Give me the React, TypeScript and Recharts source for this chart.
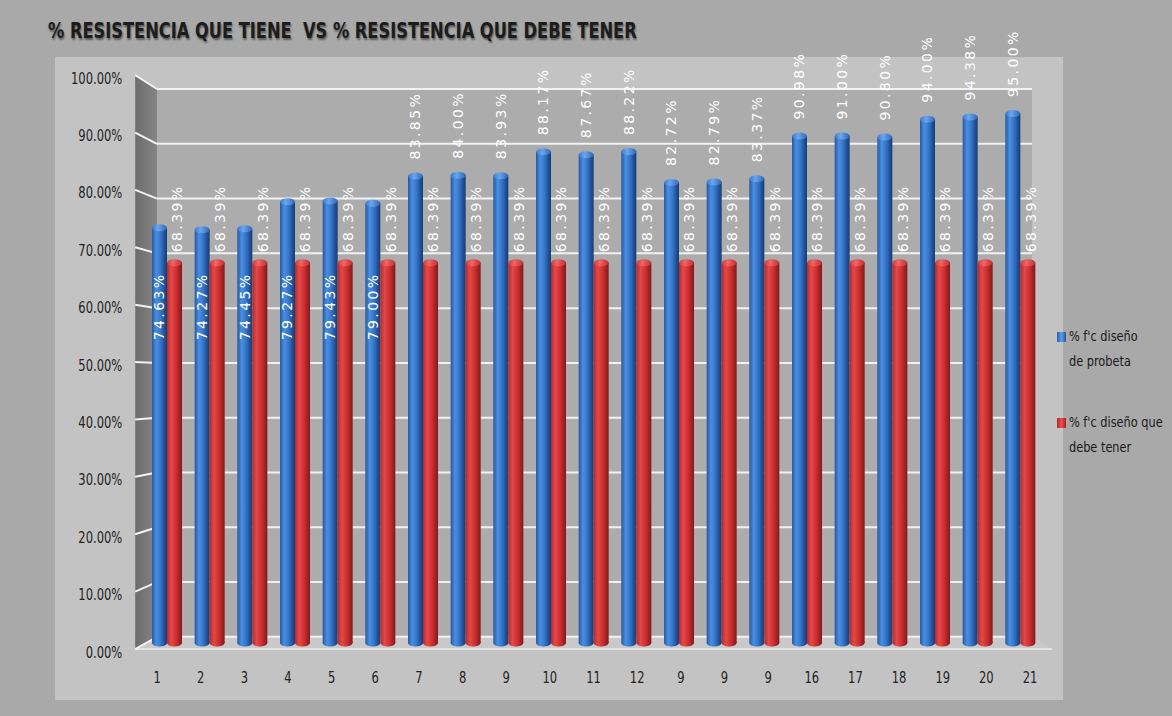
import React from 'react';
import { BarChart, Bar, XAxis, YAxis, CartesianGrid, LabelList } from 'recharts';

// ensayos (las etiquetas repetidas "9" vienen así de la hoja)
const categories = ['1', '2', '3', '4', '5', '6', '7', '8', '9', '10', '11', '12', '9', '9', '9', '16', '17', '18', '19', '20', '21'];
// % f'c diseño de probeta
const probeta = [74.63, 74.27, 74.45, 79.27, 79.43, 79.0, 83.85, 84.0, 83.93, 88.17, 87.67, 88.22, 82.72, 82.79, 83.37, 90.98, 91.0, 90.8, 94.0, 94.38, 95.0];
// % f'c diseño que debe tener
const debeTener = [68.39, 68.39, 68.39, 68.39, 68.39, 68.39, 68.39, 68.39, 68.39, 68.39, 68.39, 68.39, 68.39, 68.39, 68.39, 68.39, 68.39, 68.39, 68.39, 68.39, 68.39];
const yTicks = [0, 10, 20, 30, 40, 50, 60, 70, 80, 90, 100];

const SERIES_PROBETA = "% f'c diseño\nde probeta";
const SERIES_DEBE = "% f'c diseño que\ndebe tener";

const data = categories.map((c, i) => ({ idx: i, probeta: probeta[i], debe: debeTener[i] }));

const W = 1172;
const H = 716;
const MARGIN = { top: 82, right: 130, bottom: 43, left: 86 };
const Y_AXIS_W = 60;
const X_AXIS_H = 30;
const PLOT = {
  left: MARGIN.left + Y_AXIS_W,
  right: W - MARGIN.right,
  top: MARGIN.top,
  bottom: H - MARGIN.bottom - X_AXIS_H,
};

// perspectiva de la caja 3D: las barras quedan en el plano medio
const VP = { x: 615, y: 381 };
const BACK = 0.9766;
const FRONT = 1.023;
const proj = (x: number, y: number, k: number) => [VP.x + (x - VP.x) * k, VP.y + (y - VP.y) * k];

const NARROW = "'Liberation Sans Narrow', 'DejaVu Sans Condensed', 'Liberation Sans', sans-serif";
const pct = (v: number) => `${v.toFixed(2)}%`;

const labelStyle = {
  fontFamily: "'DejaVu Sans', sans-serif",
  fontSize: 14,
  letterSpacing: 2.4,
  fill: '#ffffff',
};

function Cylinder(props: any) {
  const { x, y, width, height, body, cap } = props;
  if (!height || height <= 0) return null;
  const rx = width / 2;
  const ry = 3.5;
  const cx = x + rx;
  const bottom = y + height;
  return (
    <g>
      <ellipse cx={cx} cy={bottom} rx={rx} ry={ry} fill={`url(#${body})`} />
      <rect x={x} y={y + ry} width={width} height={height - ry} fill={`url(#${body})`} />
      <ellipse cx={cx} cy={y + ry} rx={rx} ry={ry} fill={`url(#${cap})`} />
    </g>
  );
}

function ProbetaLabel(props: any) {
  const { x, y, width, height, value } = props;
  const cx = x + width / 2;
  if (value < 80) {
    // las más bajas llevan la etiqueta dentro del cilindro, hacia el 60%
    const cy = y + height - (height * 60) / value;
    return (
      <text x={cx} y={cy} transform={`rotate(-90 ${cx} ${cy})`} textAnchor="middle" dominantBaseline="central" style={labelStyle}>
        {pct(value)}
      </text>
    );
  }
  const ty = y - 13;
  return (
    <text x={cx} y={ty} transform={`rotate(-90 ${cx} ${ty})`} textAnchor="start" dominantBaseline="central" style={labelStyle}>
      {pct(value)}
    </text>
  );
}

function DebeLabel(props: any) {
  const { x, y, width, value } = props;
  const cx = x + width / 2 + 3;
  const ty = y - 7;
  return (
    <text x={cx} y={ty} transform={`rotate(-90 ${cx} ${ty})`} textAnchor="start" dominantBaseline="central" style={labelStyle}>
      {pct(value)}
    </text>
  );
}

// texto estrecho tipo Calibri: se comprime en horizontal
function NarrowText({ x, y, anchor, children }: any) {
  return (
    <g transform={`translate(${x} ${y}) scale(0.8 1)`}>
      <text x={0} y={0} textAnchor={anchor} dominantBaseline="central" fill="#222" fontSize={16} fontFamily={NARROW}>
        {children}
      </text>
    </g>
  );
}

function YTick(props: any) {
  const { y, payload } = props;
  const [fx, fy] = proj(PLOT.left, y, FRONT);
  return <NarrowText x={fx - 13} y={fy + 3} anchor="end">{pct(payload.value)}</NarrowText>;
}

function XTick(props: any) {
  const { x, payload } = props;
  const [fx] = proj(x, PLOT.bottom, FRONT);
  return <NarrowText x={fx} y={PLOT.bottom + 34} anchor="middle">{categories[payload.value]}</NarrowText>;
}

// líneas de división: pared del fondo + tramo sobre la pared lateral
function gridLine(p: any) {
  const [bx1, by] = proj(p.x1, p.y1, BACK);
  const [bx2] = proj(p.x2, p.y2, BACK);
  const [fx, fy] = proj(p.x1, p.y1, FRONT);
  return (
    <g key={`grid-${p.index}`}>
      <line x1={fx} y1={fy} x2={bx1} y2={by} stroke="#f2f2f2" strokeWidth={2} />
      <line x1={bx1} y1={by} x2={bx2} y2={by} stroke="#f2f2f2" strokeWidth={2} />
    </g>
  );
}

const legendItems = [
  { name: SERIES_PROBETA, marker: 'linear-gradient(90deg,#2a62b0,#5b9ae6,#2455a0)' },
  { name: SERIES_DEBE, marker: 'linear-gradient(90deg,#b82828,#e85050,#a82020)' },
];

function ChartLegend() {
  return (
    <div style={{ position: 'absolute', left: 1057, top: 324, fontFamily: NARROW, fontSize: 14, color: '#1a1a1a', lineHeight: '25px' }}>
      {legendItems.map((item, i) => (
        <div key={i} style={{ display: 'flex', alignItems: 'flex-start', marginBottom: 36 }}>
          <span style={{ display: 'inline-block', width: 9, height: 10, marginTop: 8, marginRight: 3, background: item.marker }} />
          <span style={{ whiteSpace: 'pre', display: 'inline-block', transform: 'scaleX(0.9)', transformOrigin: 'left' }}>{item.name}</span>
        </div>
      ))}
    </div>
  );
}

function Box3D() {
  const [lt, tt] = proj(PLOT.left, PLOT.top, BACK);
  const [rb, bb] = proj(PLOT.right, PLOT.bottom, BACK);
  const [flx, fty] = proj(PLOT.left, PLOT.top, FRONT);
  const [frx, fby] = proj(PLOT.right, PLOT.bottom, FRONT);
  return (
    <svg width={W} height={H} style={{ position: 'absolute', left: 0, top: 0 }}>
      <defs>
        <linearGradient id="blueBody" x1="0" y1="0" x2="1" y2="0">
          <stop offset="0%" stopColor="#2457a0" />
          <stop offset="28%" stopColor="#4a8ee0" />
          <stop offset="55%" stopColor="#3878cc" />
          <stop offset="85%" stopColor="#1f4e90" />
          <stop offset="100%" stopColor="#173c70" />
        </linearGradient>
        <linearGradient id="blueCap" x1="0" y1="0" x2="1" y2="0">
          <stop offset="0%" stopColor="#3a7bd0" />
          <stop offset="40%" stopColor="#6aa6ee" />
          <stop offset="100%" stopColor="#2e66b5" />
        </linearGradient>
        <linearGradient id="redBody" x1="0" y1="0" x2="1" y2="0">
          <stop offset="0%" stopColor="#b32a2a" />
          <stop offset="28%" stopColor="#e44848" />
          <stop offset="55%" stopColor="#d23434" />
          <stop offset="85%" stopColor="#a02222" />
          <stop offset="100%" stopColor="#7c1a1a" />
        </linearGradient>
        <linearGradient id="redCap" x1="0" y1="0" x2="1" y2="0">
          <stop offset="0%" stopColor="#d43a3a" />
          <stop offset="40%" stopColor="#f06464" />
          <stop offset="100%" stopColor="#c03030" />
        </linearGradient>
        <linearGradient id="sideWall" x1="0" y1="0" x2="1" y2="0">
          <stop offset="0%" stopColor="#6c6c6c" />
          <stop offset="100%" stopColor="#858585" />
        </linearGradient>
      </defs>
      <rect x={0} y={0} width={W} height={H} fill="#a9a9a9" />
      <rect x={55} y={57} width={1008} height={643} fill="#c3c3c3" />
      <rect x={lt} y={tt} width={rb - lt} height={bb - tt} fill="#acacac" />
      <polygon points={`${flx},${fty} ${lt},${tt} ${lt},${bb} ${flx},${fby}`} fill="url(#sideWall)" />
      <polygon points={`${lt},${bb} ${rb},${bb} ${frx},${fby} ${flx},${fby}`} fill="#c9c9c9" />
      <line x1={flx} y1={fby} x2={frx} y2={fby} stroke="#e4e4e4" strokeWidth={2} />
    </svg>
  );
}

export default function App() {
  return (
    <div style={{ position: 'absolute', left: 0, top: 0, width: W, height: H, overflow: 'hidden' }}>
      <Box3D />
      <div
        style={{
          position: 'absolute',
          left: 48,
          top: 19,
          fontFamily: NARROW,
          fontWeight: 'bold',
          fontSize: 21,
          color: '#1c1c1c',
          whiteSpace: 'pre',
          transform: 'scaleX(0.86)',
          transformOrigin: 'left',
          textShadow: '1px 2px 2px rgba(0,0,0,0.45)',
        }}
      >
        {'% RESISTENCIA QUE TIENE  VS % RESISTENCIA QUE DEBE TENER'}
      </div>
      <ChartLegend />
      <div style={{ position: 'absolute', left: 0, top: 0 }}>
        <BarChart width={W} height={H} data={data} margin={MARGIN} barSize={15} barGap={0}>
          <CartesianGrid vertical={false} horizontal={gridLine} />
          <XAxis dataKey="idx" type="category" height={X_AXIS_H} axisLine={false} tickLine={false} tick={<XTick />} interval={0} />
          <YAxis width={Y_AXIS_W} domain={[0, 100]} ticks={yTicks} axisLine={false} tickLine={false} tick={<YTick />} />
          <Bar
            dataKey="probeta"
            name={SERIES_PROBETA}
            fill="#2f6fc4"
            isAnimationActive={false}
            shape={(p: any) => <Cylinder {...p} body="blueBody" cap="blueCap" />}
          >
            <LabelList dataKey="probeta" content={(p: any) => <ProbetaLabel {...p} />} />
          </Bar>
          <Bar
            dataKey="debe"
            name={SERIES_DEBE}
            fill="#cc3333"
            isAnimationActive={false}
            shape={(p: any) => <Cylinder {...p} body="redBody" cap="redCap" />}
          >
            <LabelList dataKey="debe" content={(p: any) => <DebeLabel {...p} />} />
          </Bar>
        </BarChart>
      </div>
    </div>
  );
}
